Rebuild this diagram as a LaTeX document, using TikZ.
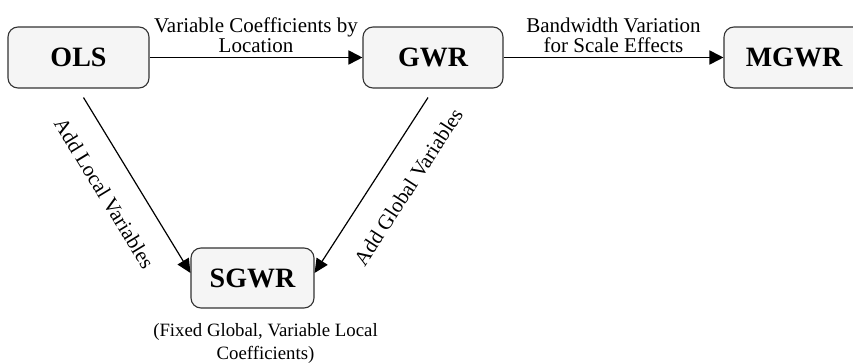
\documentclass[tikz,border=0pt]{standalone}
\usepackage{fontspec}
\setmainfont{Liberation Serif}
\usetikzlibrary{arrows.meta}
\begin{document}
\begin{tikzpicture}[x=1pt,y=-1pt,
    model/.style={draw=black!80, line width=1.1pt, fill=black!4, rounded corners=10pt,
        minimum width=140pt, minimum height=61pt, font=\fontsize{28}{30}\selectfont\bfseries},
    flow/.style={-{Triangle[length=14pt,width=14pt]}, line width=1.8pt},
    side/.style={-{Triangle[length=14pt,width=13pt]}, line width=1.2pt},
    lbl/.style={font=\fontsize{21}{20.5}\selectfont, align=center, inner sep=2pt}]
    \useasboundingbox (0,0) rectangle (853,363);
    \clip (0,0) rectangle (853,363);
    \node[model, minimum width=141pt] (ols) at (78.5,57.5) {OLS};
    \node[model] (gwr) at (433,57.5) {GWR};
    \node[model] (mgwr) at (794,57.5) {MGWR};
    \node[model, minimum width=123pt, minimum height=60pt] (sgwr) at (252.5,278) {SGWR};
    \draw[flow] (ols) -- (gwr) node[midway, above=1.5pt, lbl] {Variable Coefficients by\\Location};
    \draw[flow] (gwr) -- (mgwr) node[midway, above=1.5pt, lbl] {Bandwidth Variation\\for Scale Effects};
    \draw[side] ([xshift=5pt,yshift=-9pt]ols.south) -- ([yshift=5pt]sgwr.west)
        node[pos=0.45, sloped, below=22pt, lbl] {Add Local Variables};
    \draw[side] ([xshift=-5pt,yshift=-9pt]gwr.south) -- ([yshift=5pt]sgwr.east)
        node[pos=0.41, sloped, below=22pt, lbl] {Add Global Variables};
    \node[lbl, anchor=north, font=\fontsize{18.8}{23}\selectfont] (note) at ([xshift=13pt,yshift=-13pt]sgwr.south)
        {(Fixed Global, Variable Local\\Coefficients)};
\end{tikzpicture}
\end{document}
